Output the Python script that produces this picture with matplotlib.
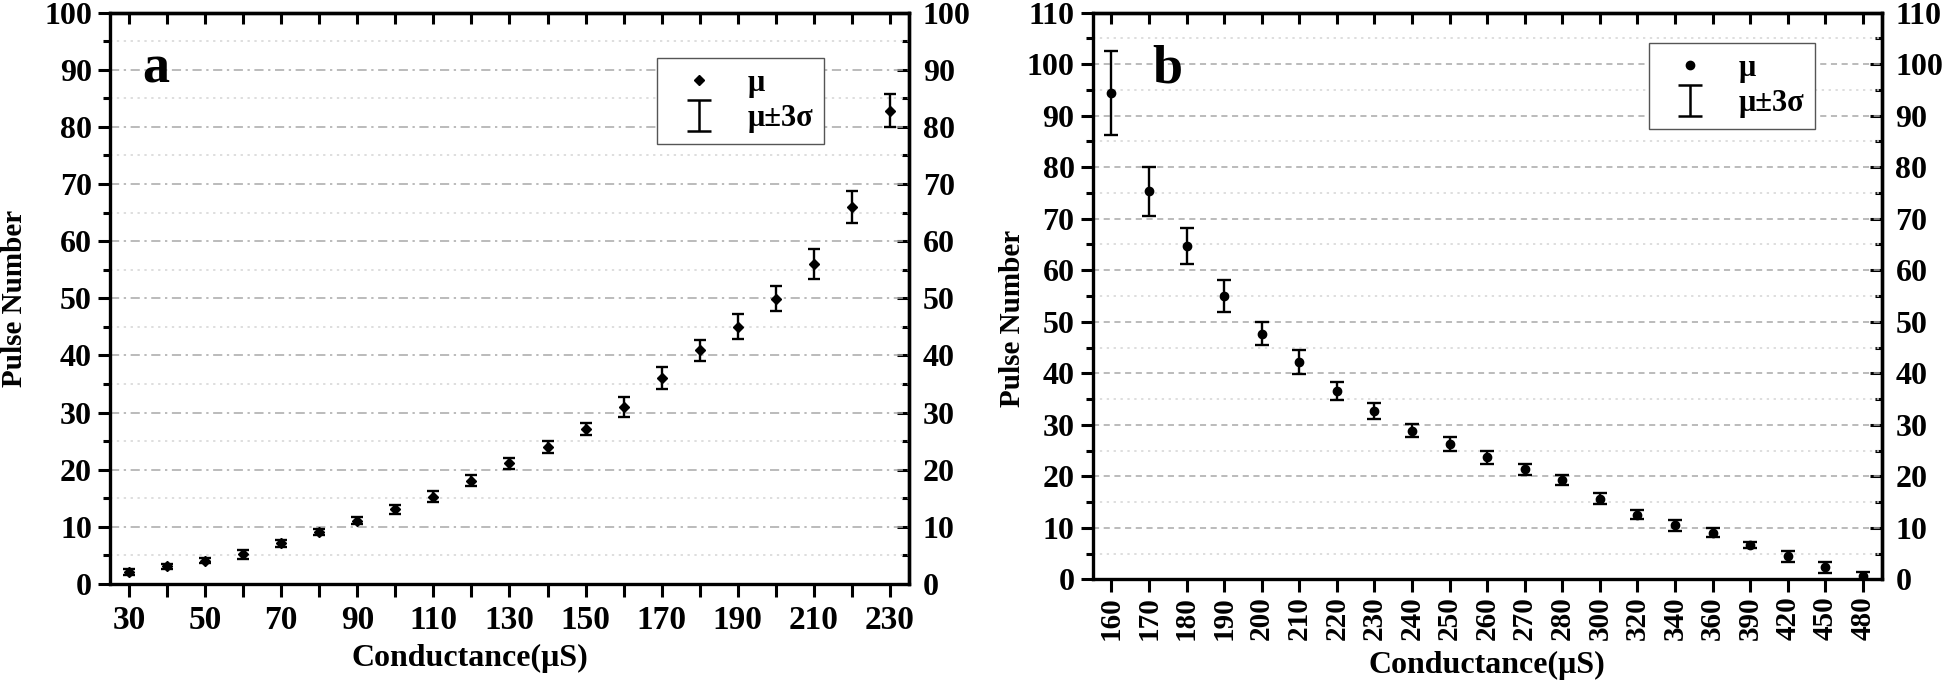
import numpy as np
import matplotlib.pyplot as plt
from matplotlib.ticker import MultipleLocator
from matplotlib.legend_handler import HandlerErrorbar

plt.rcParams['font.family'] = ['Liberation Serif', 'DejaVu Serif']
plt.rcParams['font.weight'] = 'bold'

# panel a
cond_a = [30, 40, 50, 60, 70, 80, 90, 100, 110, 120, 130, 140, 150, 160, 170, 180, 190, 200, 210, 220, 230]
mu_a = [2.1, 3.1, 4.1, 5.2, 7.1, 9.1, 11.1, 13.1, 15.3, 18.1, 21.1, 24.0, 27.2, 31.0, 36.1,
        40.9, 45.0, 49.9, 56.0, 66.0, 82.8]
err_a = [0.45, 0.4, 0.5, 0.8, 0.55, 0.5, 0.6, 0.8, 1.0, 1.0, 0.95, 1.05, 1.05, 1.7, 1.9,
         1.8, 2.2, 2.2, 2.55, 2.8, 2.9]
ticklabels_a = ['30', '', '50', '', '70', '', '90', '', '110', '', '130', '', '150', '', '170',
                '', '190', '', '210', '', '230']

# panel b (categorical x)
cond_b = ['160', '170', '180', '190', '200', '210', '220', '230', '240', '250', '260', '270',
          '280', '300', '320', '340', '360', '390', '420', '450', '480']
mu_b = [94.4, 75.3, 64.7, 55.0, 47.7, 42.2, 36.6, 32.6, 28.9, 26.3, 23.7, 21.4, 19.3, 15.7,
        12.6, 10.5, 9.1, 6.7, 4.5, 2.4, 0.7]
err_b = [8.2, 4.8, 3.5, 3.2, 2.25, 2.3, 1.8, 1.55, 1.3, 1.35, 1.2, 1.05, 1.05, 1.15, 0.95,
         1.0, 0.85, 0.65, 1.05, 1.05, 0.8]

SPW = 2.4
YTS = 23   # y tick label size


def setup_panel(ax, ymax, major_ls, xticks):
    ax.set_ylim(0, ymax)
    ax.yaxis.set_major_locator(MultipleLocator(10))
    ax.yaxis.set_minor_locator(MultipleLocator(5))
    ax.grid(axis='y', which='major', color='#a8a8a8', ls=major_ls, lw=1.1)
    ax.grid(axis='y', which='minor', color='#d4d4d4', ls=(0, (1.5, 3)), lw=1.1)
    ax.set_axisbelow(True)
    for s in ax.spines.values():
        s.set_linewidth(SPW)
    ax.tick_params(which='major', direction='out', length=9, width=2.2, labelsize=YTS, pad=4)
    ax.tick_params(which='minor', direction='out', length=5, width=2.2)
    ax.tick_params(axis='x', which='minor', bottom=False)
    ax.tick_params(axis='x', labelsize=24, pad=6)

    sy = ax.secondary_yaxis('right')
    sy.yaxis.set_major_locator(MultipleLocator(10))
    sy.yaxis.set_minor_locator(MultipleLocator(5))
    sy.tick_params(which='major', direction='in', length=9, width=2.2, labelsize=YTS, pad=10)
    sy.tick_params(which='minor', direction='in', length=5, width=2.2)
    sy.spines['right'].set_linewidth(SPW)

    sx = ax.secondary_xaxis('top')
    sx.set_xticks(xticks)
    sx.tick_params(direction='in', length=8, width=2.2, labeltop=False)
    sx.tick_params(axis='x', which='minor', top=False)
    sx.spines['top'].set_linewidth(SPW)
    return sy


def add_legend(ax, marker, anchor):
    pt, = ax.plot([np.nan], [np.nan], marker, color='k', ms=5.5 if marker == 'D' else 6,
                  ls='none', label='μ')
    eb = ax.errorbar([np.nan], [np.nan], yerr=[1], fmt='none', ecolor='k', elinewidth=1.8,
                     capsize=8.6, capthick=1.8, label='μ±3σ')
    leg = ax.legend(handles=[pt, eb], loc='upper left', bbox_to_anchor=anchor,
                    borderaxespad=0, fontsize=22, numpoints=1, handlelength=2.0,
                    handletextpad=0.6, labelspacing=0.2, borderpad=0.35,
                    fancybox=False, framealpha=1, edgecolor='#555555',
                    handler_map={eb: HandlerErrorbar(yerr_size=0.5)})
    leg.get_frame().set_linewidth(1.0)


def center_ylabels(*axes):
    for a in axes:
        for lab in a.get_yticklabels():
            lab.set_va('center_baseline')


fig = plt.figure(figsize=(19.46, 6.8), dpi=100)
ax_a = fig.add_axes([0.0565, 0.1412, 0.4106, 0.8404])
ax_b = fig.add_axes([0.5615, 0.1478, 0.4054, 0.8338])

# ---- a ----
ax_a.set_xlim(25, 235)
ax_a.set_xticks(cond_a)
ax_a.set_xticklabels(ticklabels_a)
sy_a = setup_panel(ax_a, 100, (0, (6, 3, 1.5, 3)), cond_a)
ax_a.errorbar(cond_a, mu_a, yerr=err_a, fmt='none', ecolor='k', elinewidth=1.7,
              capsize=4.3, capthick=1.7, zorder=3)
ax_a.plot(cond_a, mu_a, 'D', color='k', ms=5.5, zorder=4)
add_legend(ax_a, 'D', (0.685, 0.920))
ax_a.text(0.041, 0.878, 'a', transform=ax_a.transAxes, fontsize=39, fontweight='bold',
          va='baseline', ha='left')
ax_a.set_xlabel('Conductance(μS)', fontsize=23, fontweight='bold')
ax_a.xaxis.set_label_coords(0.45, -0.13)
ax_a.xaxis.label.set_va('center')
ax_a.set_ylabel('Pulse Number', fontsize=21, fontweight='bold')
ax_a.yaxis.set_label_coords(-0.12, 0.5)
ax_a.yaxis.label.set_va('center')

# ---- b ----
xb = np.arange(len(cond_b))
ax_b.set_xlim(-0.5, len(cond_b) - 0.5)
ax_b.set_xticks(xb)
ax_b.set_xticklabels(cond_b, rotation=90)
sy_b = setup_panel(ax_b, 110, (0, (4, 3)), xb)
ax_b.tick_params(axis='x', labelsize=21, pad=3)
ax_b.errorbar(xb, mu_b, yerr=err_b, fmt='none', ecolor='k', elinewidth=1.7,
              capsize=5, capthick=1.7, zorder=3)
ax_b.plot(xb, mu_b, 'o', color='k', ms=6, zorder=4)
add_legend(ax_b, 'o', (0.705, 0.9455))
ax_b.text(0.076, 0.877, 'b', transform=ax_b.transAxes, fontsize=39, fontweight='bold',
          va='baseline', ha='left')
ax_b.set_xlabel('Conductance(μS)', fontsize=23, fontweight='bold')
ax_b.xaxis.set_label_coords(0.5, -0.152)
ax_b.xaxis.label.set_va('center')
ax_b.set_ylabel('Pulse Number', fontsize=21, fontweight='bold')
ax_b.yaxis.set_label_coords(-0.101, 0.46)
ax_b.yaxis.label.set_va('center')

center_ylabels(ax_a, ax_b, sy_a, sy_b)

fig.savefig('out.png', dpi=100)
